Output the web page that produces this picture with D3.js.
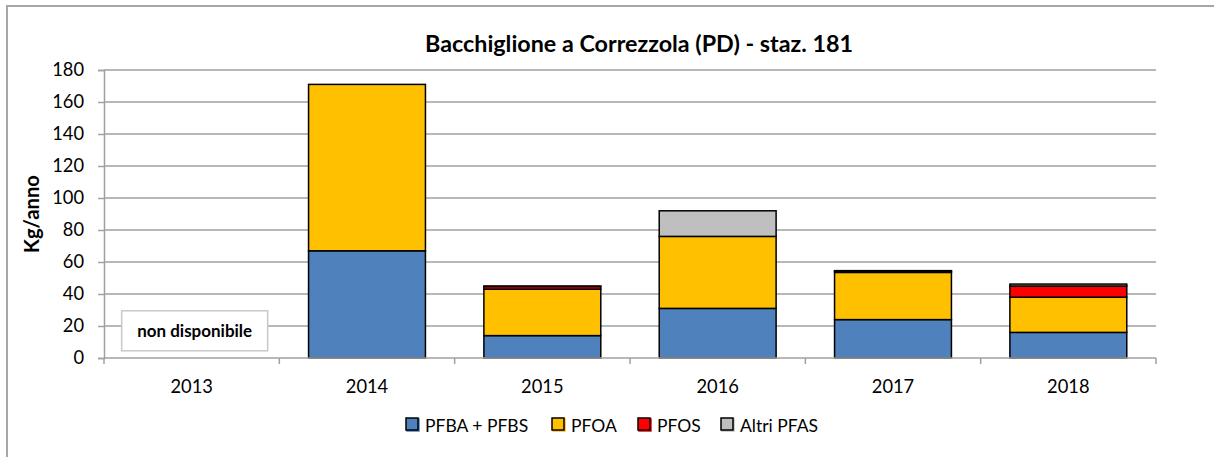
<!DOCTYPE html>
<html>
<head>
<meta charset="utf-8">
<script src="https://cdn.jsdelivr.net/npm/d3@7"></script>
<style>
  html, body { margin: 0; padding: 0; background: #fff; }
  svg { display: block; font-family: Lato, "Open Sans", sans-serif; }
</style>
</head>
<body>
<svg id="chart" width="1214" height="457"></svg>
<script>
// ---- data ----
const years = ["2013", "2014", "2015", "2016", "2017", "2018"];
const pfbaPfbs = [null, 67, 14, 31, 24, 16];
const pfoa     = [null, 104, 29, 45, 29.5, 22];
const pfos     = [null, 0, 1.7, 0, 0.8, 7];
const altri    = [null, 0, 0.3, 16, 0.3, 1.2];
const seriesNames = ["PFBA + PFBS", "PFOA", "PFOS", "Altri PFAS"];
const seriesColors = ["#4f81bd", "#ffc000", "#ff0000", "#bfbfbf"];
const yTicks = [0, 20, 40, 60, 80, 100, 120, 140, 160, 180];
const title = "Bacchiglione a Correzzola (PD) - staz. 181";
const yTitle = "Kg/anno";
const noDataLabel = "non disponibile";

const rows = years.map((y, i) => ({
  year: y,
  "PFBA + PFBS": pfbaPfbs[i] || 0,
  "PFOA": pfoa[i] || 0,
  "PFOS": pfos[i] || 0,
  "Altri PFAS": altri[i] || 0,
  missing: pfbaPfbs[i] === null
}));

const svg = d3.select("#chart");
const margin = { left: 104, right: 58, top: 70, bottom: 99 };
const W = 1214, H = 457;

// outer border (chart area frame)
svg.append("rect")
  .attr("x", 7).attr("y", 6).attr("width", 1400).attr("height", 600)
  .attr("fill", "none").attr("stroke", "#a6a6a6").attr("stroke-width", 2);

const x = d3.scaleBand().domain(years).range([margin.left, W - margin.right]).padding(0);
const y = d3.scaleLinear().domain([0, 180]).range([H - margin.bottom, margin.top]);

// fit helper: scale font so the text reaches a target width
function fit(sel, target) {
  const n = sel.node();
  const fs = parseFloat(sel.attr("font-size"));
  const w = n.getComputedTextLength();
  if (w > 0) sel.attr("font-size", (fs * target / w).toFixed(2));
}

// gridlines
svg.append("g").selectAll("line").data(yTicks.filter(t => t > 0)).join("line")
  .attr("x1", margin.left).attr("x2", W - margin.right)
  .attr("y1", d => y(d)).attr("y2", d => y(d))
  .attr("stroke", "#a0a0a0").attr("stroke-width", 1.5);

// y axis
const yAxis = svg.append("g").attr("transform", `translate(${margin.left},0)`)
  .call(d3.axisLeft(y).tickValues(yTicks).tickSize(6).tickPadding(14));
yAxis.select(".domain").attr("stroke", "#a0a0a0").attr("stroke-width", 1.5);
yAxis.selectAll(".tick line").attr("stroke", "#a0a0a0").attr("stroke-width", 1.5);
yAxis.selectAll(".tick text").attr("font-size", 18.3).attr("fill", "#000")
  .attr("font-family", "Lato, sans-serif");

// stacked bars
const stack = d3.stack().keys(seriesNames);
const stacked = stack(rows);
const barW = x.bandwidth() * 2 / 3;
const barsG = svg.append("g");
stacked.forEach((layer, si) => {
  barsG.append("g").selectAll("rect").data(layer.filter(d => d[1] - d[0] > 0)).join("rect")
    .attr("x", d => x(d.data.year) + (x.bandwidth() - barW) / 2)
    .attr("width", barW)
    .attr("y", d => y(d[1]))
    .attr("height", d => y(d[0]) - y(d[1]))
    .attr("fill", seriesColors[si])
    .attr("stroke", "#000").attr("stroke-width", 1.5);
});

// x axis
const xAxisG = svg.append("g").attr("transform", `translate(0,${y(0)})`);
xAxisG.append("line").attr("x1", margin.left).attr("x2", W - margin.right)
  .attr("y1", 0).attr("y2", 0).attr("stroke", "#a0a0a0").attr("stroke-width", 1.5);
const bounds = years.map(d => x(d)).concat([x(years[years.length - 1]) + x.bandwidth()]);
xAxisG.selectAll("line.tk").data(bounds).join("line").attr("class", "tk")
  .attr("x1", d => d).attr("x2", d => d).attr("y1", 0).attr("y2", 6)
  .attr("stroke", "#a0a0a0").attr("stroke-width", 1.5);
xAxisG.selectAll("text").data(years).join("text")
  .attr("x", d => x(d) + x.bandwidth() / 2).attr("y", 35)
  .attr("text-anchor", "middle").attr("font-size", 18.3).attr("fill", "#000")
  .text(d => d);

// "non disponibile" box for missing years
rows.filter(r => r.missing).forEach(r => {
  const cx = x(r.year) + x.bandwidth() / 2 + 3;
  const g = svg.append("g");
  g.append("rect").attr("x", cx - 73).attr("y", y(29.5)).attr("width", 146).attr("height", 40)
    .attr("fill", "#fff").attr("stroke", "#c8c8c8").attr("stroke-width", 1.5);
  const t = g.append("text").attr("x", cx).attr("y", y(29.5) + 26)
    .attr("text-anchor", "middle").attr("font-size", 16).attr("font-weight", "bold")
    .text(noDataLabel);
  fit(t, 115);
});

// title
const tt = svg.append("text").attr("x", 639).attr("y", 52)
  .attr("text-anchor", "middle").attr("font-size", 22).attr("font-weight", "bold")
  .text(title);
fit(tt, 428);

// y title
const yt = svg.append("text").attr("transform", `translate(39,${(y(0) + y(180)) / 2}) rotate(-90)`)
  .attr("text-anchor", "middle").attr("font-size", 18).attr("font-weight", "bold")
  .text(yTitle);
fit(yt, 78);

// legend
const legendX = [406, 552, 638, 721];
const leg = svg.append("g");
seriesNames.forEach((n, i) => {
  const g = leg.append("g").attr("transform", `translate(${legendX[i]},418)`);
  g.append("rect").attr("x", 1).attr("y", 1).attr("width", 12).attr("height", 12)
    .attr("fill", seriesColors[i]).attr("stroke", seriesColors[i]).attr("stroke-width", 1.5);
  g.append("rect").attr("x", 0).attr("y", 0).attr("width", 12).attr("height", 12)
    .attr("fill", seriesColors[i]).attr("stroke", "#000").attr("stroke-width", 1.5);
  g.append("text").attr("x", 19).attr("y", 13.5).attr("font-size", 17.5).text(n);
});
</script>
</body>
</html>
